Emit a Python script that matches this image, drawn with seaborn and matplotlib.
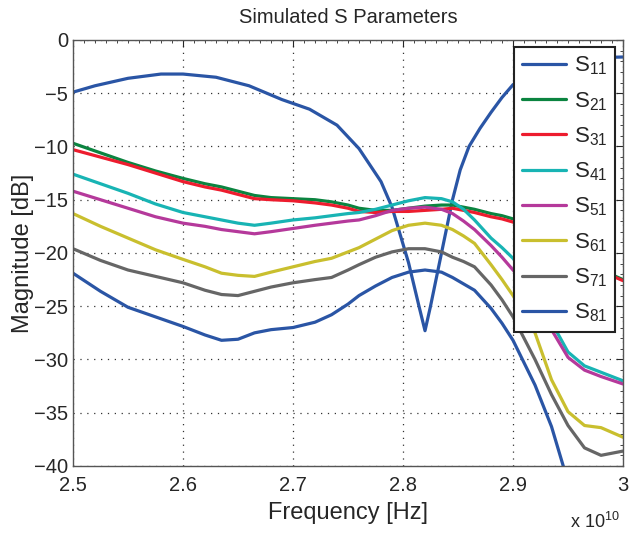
import numpy as np
import pandas as pd
import matplotlib
matplotlib.use('Agg')
import matplotlib.pyplot as plt
import seaborn as sns
from matplotlib.ticker import MultipleLocator, AutoMinorLocator, FuncFormatter

# Frequencies in units of 1e10 Hz
freq_s11 = [2.50, 2.52, 2.55, 2.58, 2.60, 2.63, 2.66, 2.69, 2.715, 2.74, 2.76, 2.78,
            2.79, 2.805, 2.815, 2.82, 2.825, 2.83, 2.835, 2.84, 2.845, 2.852, 2.86,
            2.87, 2.88, 2.89, 2.90, 2.92, 2.94, 2.96, 3.00]
s11 = [-4.9, -4.3, -3.6, -3.2, -3.2, -3.5, -4.3, -5.6, -6.5, -8.0, -10.2, -13.3,
       -15.7, -20.9, -25.2, -27.3, -25.0, -22.5, -20.0, -17.5, -15.0, -12.2, -10.0,
       -8.3, -6.8, -5.4, -4.2, -2.8, -2.0, -1.7, -1.6]

freq = [2.50, 2.525, 2.55, 2.575, 2.60, 2.62, 2.635, 2.65, 2.665, 2.68, 2.70, 2.72,
        2.735, 2.75, 2.76, 2.775, 2.79, 2.805, 2.82, 2.835, 2.845, 2.855, 2.865, 2.88,
        2.89, 2.90, 2.91, 2.92, 2.935, 2.95, 2.965, 2.98, 3.00]
s21 = [-9.7, -10.6, -11.5, -12.3, -13.0, -13.5, -13.8, -14.2, -14.6, -14.8, -14.9, -15.0,
       -15.2, -15.5, -15.8, -16.0, -16.0, -15.8, -15.6, -15.5, -15.5, -15.7, -15.9, -16.3,
       -16.5, -16.8, -17.2, -17.6, -18.5, -19.5, -20.6, -21.6, -22.5]
s31 = [-10.3, -11.0, -11.7, -12.5, -13.3, -13.8, -14.1, -14.5, -14.9, -15.0, -15.1, -15.3,
       -15.5, -15.8, -16.1, -16.2, -16.1, -16.1, -16.0, -15.9, -15.8, -16.0, -16.2, -16.6,
       -16.8, -17.1, -17.5, -17.9, -18.8, -19.8, -20.8, -21.7, -22.6]
s41 = [-12.6, -13.5, -14.4, -15.4, -16.2, -16.6, -16.9, -17.2, -17.4, -17.2, -16.9, -16.7,
       -16.5, -16.3, -16.2, -15.9, -15.5, -15.1, -14.8, -14.9, -15.2, -15.9, -16.9, -18.6,
       -19.5, -20.5, -21.8, -23.3, -26.5, -29.3, -30.6, -31.2, -32.0]
s51 = [-14.2, -15.0, -15.8, -16.6, -17.2, -17.5, -17.8, -18.0, -18.2, -18.0, -17.7, -17.4,
       -17.2, -17.0, -16.9, -16.5, -16.0, -15.8, -15.7, -15.9, -16.3, -17.0, -17.8, -19.3,
       -20.4, -21.6, -22.7, -24.0, -27.2, -29.8, -31.0, -31.6, -32.3]
s61 = [-16.3, -17.5, -18.6, -19.7, -20.6, -21.3, -21.9, -22.1, -22.2, -21.8, -21.3, -20.8,
       -20.5, -19.9, -19.5, -18.7, -17.9, -17.4, -17.2, -17.4, -17.8, -18.4, -19.1, -21.1,
       -22.5, -24.0, -25.7, -27.5, -31.9, -34.9, -36.2, -36.4, -37.3]
s71 = [-19.6, -20.7, -21.6, -22.2, -22.8, -23.5, -23.9, -24.0, -23.6, -23.2, -22.8, -22.5,
       -22.3, -21.6, -21.1, -20.4, -19.9, -19.6, -19.6, -19.9, -20.4, -20.8, -21.3, -23.0,
       -24.4, -26.0, -28.0, -30.0, -33.3, -36.2, -38.3, -39.0, -38.6]
s81 = [-21.9, -23.6, -25.1, -26.0, -26.9, -27.7, -28.2, -28.1, -27.5, -27.2, -27.0, -26.5,
       -25.8, -24.8, -24.0, -23.1, -22.3, -21.8, -21.6, -21.8, -22.3, -22.9, -23.5, -25.2,
       -26.6, -28.2, -30.3, -32.4, -36.3, -41.5, np.nan, np.nan, np.nan]

names = ['S11', 'S21', 'S31', 'S41', 'S51', 'S61', 'S71', 'S81']
colors = ['#2A55A5', '#0B8440', '#ED1C2E', '#18B4B4', '#B5399B', '#C9BF2E', '#666666', '#2A55A5']

series = [s11, s21, s31, s41, s51, s61, s71, s81]
rows = []
for name, vals in zip(names, series):
    xs = freq_s11 if name == 'S11' else freq
    for f, v in zip(xs, vals):
        rows.append((f, v, name))
df = pd.DataFrame(rows, columns=['freq', 'mag', 'param']).dropna()

sns.set_style('white')
plt.rcParams['font.family'] = ['Liberation Sans', 'DejaVu Sans']
plt.rcParams['mathtext.fontset'] = 'custom'
plt.rcParams['mathtext.rm'] = 'Liberation Sans'
plt.rcParams['mathtext.default'] = 'regular'

fig = plt.figure(figsize=(6.3, 5.35), dpi=100)
ax = fig.add_axes([0.1159, 0.129, 0.873, 0.7963])

sns.lineplot(data=df, x='freq', y='mag', hue='param', hue_order=names,
             palette=dict(zip(names, colors)), estimator=None, sort=True,
             linewidth=2.3, ax=ax)

ax.set_xlim(2.5, 3.0)
ax.set_ylim(-40, 0)
ax.xaxis.set_major_locator(MultipleLocator(0.1))
ax.yaxis.set_major_locator(MultipleLocator(5))
ax.xaxis.set_minor_locator(AutoMinorLocator(10))
ax.yaxis.set_minor_locator(AutoMinorLocator(5))
ax.xaxis.set_major_formatter(FuncFormatter(lambda v, p: '%g' % round(v, 2)))
ax.yaxis.set_major_formatter(FuncFormatter(lambda v, p: ('%g' % v).replace('-', '\u2212')))
ax.tick_params(which='both', direction='in', top=True, right=True, labelsize=14.5,
               colors='#262626')
ax.tick_params(which='major', length=5)
ax.tick_params(which='minor', length=2.5)
ax.tick_params(axis='x', which='major', pad=7)
ax.grid(True, which='major', linestyle=(0, (1, 4.5)), color='#333333', linewidth=0.9)
for sp in ax.spines.values():
    sp.set_color('#555555')
    sp.set_linewidth(1.0)

ax.set_title('Simulated S Parameters', fontsize=14.5, pad=12)
ax.set_xlabel('Frequency [Hz]', fontsize=17, labelpad=5)
ax.set_ylabel('Magnitude [dB]', fontsize=17, labelpad=0)
fig.text(0.905, 0.014, r'x 10$^{10}$', fontsize=13)

handles, _ = ax.get_legend_handles_labels()
labels = [r'$S_{%s}$' % n[1:] for n in names]
leg = ax.legend(handles, labels, loc='upper right', bbox_to_anchor=(0.9855, 0.9836),
                borderaxespad=0, fontsize=16, handlelength=2.0, labelspacing=0.57,
                fancybox=False, framealpha=1, edgecolor='#222222',
                borderpad=0.35, handletextpad=0.35)
leg.get_frame().set_linewidth(1.5)

fig.savefig('out.png', dpi=100)
